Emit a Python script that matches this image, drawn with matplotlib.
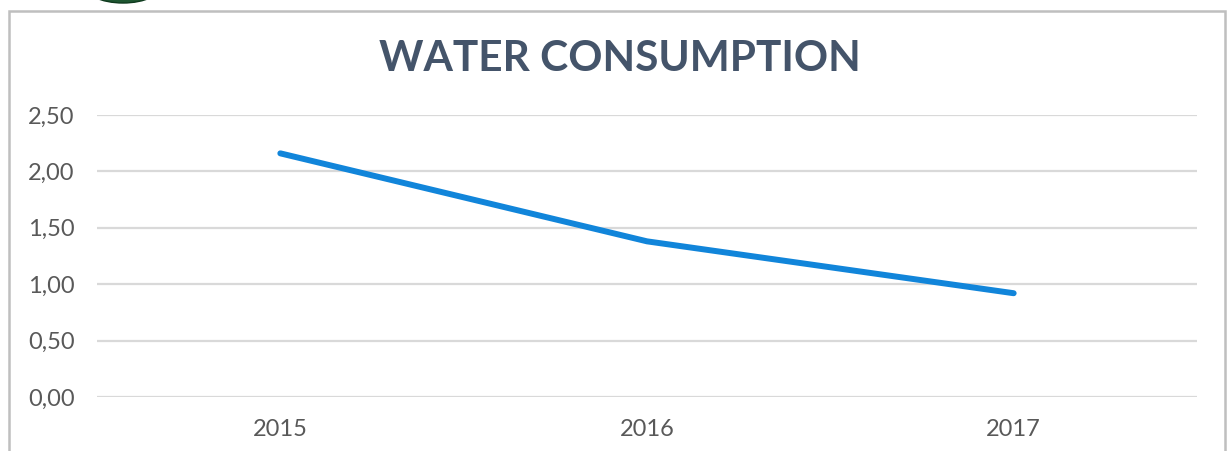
import matplotlib.pyplot as plt
from matplotlib.patches import Rectangle, Ellipse

years = ["2015", "2016", "2017"]
consumption = [2.16, 1.38, 0.92]
y_ticks = [0.0, 0.5, 1.0, 1.5, 2.0, 2.5]

W, H = 1228, 451
fig = plt.figure(figsize=(W / 100, H / 100), dpi=100)
fig.patch.set_facecolor("white")

# chart frame and the bit of green logo peeking over it
fig.patches.append(Rectangle((9 / W, -0.05), (1225 - 9) / W, 1.05 - 11 / H,
                             transform=fig.transFigure, fill=False,
                             edgecolor="#BFBFBF", linewidth=1.8, zorder=0))
fig.patches.append(Ellipse((123 / W, 1 - (-16) / H), 80 / W, 38 / H,
                           transform=fig.transFigure, facecolor="#1E5631",
                           edgecolor="#0F3A1E", linewidth=1, zorder=1))

ax = fig.add_axes([97 / W, 1 - 397 / H, 1100 / W, (397 - 115) / H])
x = list(range(len(years)))
ax.plot(x, consumption, color="#1185DA", linewidth=4.3,
        solid_capstyle="round", zorder=3)

ax.set_xlim(-0.5, len(years) - 0.5)
ax.set_ylim(0, 2.5)
ax.set_yticks(y_ticks)
ax.set_yticklabels([f"{v:.2f}".replace(".", ",") for v in y_ticks])
ax.set_xticks(x)
ax.set_xticklabels(years)
ax.grid(axis="y", color="#D9D9D9", linewidth=1.6)
ax.set_axisbelow(True)
for s in ax.spines.values():
    s.set_visible(False)
ax.tick_params(length=0, labelsize=17, labelcolor="#595959")
ax.tick_params(axis="x", pad=16)
ax.tick_params(axis="y", pad=16)
for lbl in ax.get_xticklabels() + ax.get_yticklabels():
    lbl.set_family("Lato")

fig.text(620 / W, 1 - 59 / H, "WATER CONSUMPTION", ha="center", va="center",
         fontsize=30.5, fontweight="bold", color="#44546A", family="Lato")

fig.savefig("out.png", dpi=100, facecolor="white")
